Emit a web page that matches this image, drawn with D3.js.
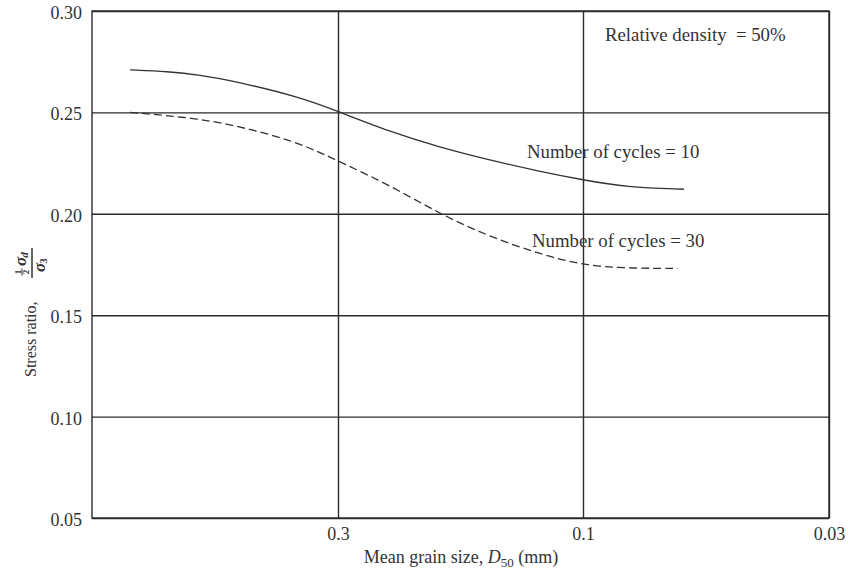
<!DOCTYPE html>
<html>
<head>
<meta charset="utf-8">
<script src="https://cdn.jsdelivr.net/npm/d3@7"></script>
<style>
  html, body { margin: 0; padding: 0; background: #fff; }
  svg { display: block; font-family: "Liberation Serif", "Times New Roman", serif; }
</style>
</head>
<body>
<svg id="chart" width="848" height="571"></svg>
<script>
// Mean grain size D50 (mm) and cyclic stress ratio for each curve
const grainSize10 = [0.83, 0.69, 0.59, 0.50, 0.36, 0.30, 0.238, 0.19, 0.152, 0.121, 0.10, 0.081, 0.061];
const stressRatio10 = [0.271, 0.2702, 0.2685, 0.2655, 0.2575, 0.2505, 0.2405, 0.2328, 0.2265, 0.2208, 0.2167, 0.2131, 0.2121];

const grainSize30 = [0.83, 0.59, 0.46, 0.36, 0.30, 0.238, 0.19, 0.152, 0.121, 0.10, 0.081, 0.063];
const stressRatio30 = [0.250, 0.2471, 0.2418, 0.2348, 0.226, 0.2142, 0.1999, 0.1887, 0.180, 0.1747, 0.1731, 0.1731];

// Axis ticks
const grainDomain = [1, 0.3, 0.1, 0.03];
const grainTicks = [0.3, 0.1, 0.03];
const ratioTicks = [0.05, 0.10, 0.15, 0.20, 0.25, 0.30];

const svg = d3.select("#chart");
const plotLeft = 92, plotRight = 829, plotTop = 11, plotBottom = 518;
const ink = "#2b2b2b";
const textInk = "#333";

// Grain size axis: equal spacing per gridline, decreasing to the right
const x = d3.scaleLog().domain(grainDomain)
  .range([plotLeft, 338, 583, plotRight]);
const y = d3.scaleLinear().domain([0.05, 0.30]).range([plotBottom, plotTop]);

// Horizontal gridlines + stress ratio labels
const yAxis = svg.append("g")
  .attr("transform", `translate(${plotLeft},0)`)
  .call(d3.axisLeft(y).tickValues(ratioTicks)
    .tickSize(-(plotRight - plotLeft)).tickPadding(10)
    .tickFormat(d3.format(".2f")));
yAxis.select(".domain").remove();
yAxis.selectAll(".tick line").attr("stroke", ink).attr("stroke-width", 1.4);
yAxis.selectAll(".tick text")
  .attr("font-size", 18).attr("fill", textInk)
  .attr("font-family", "Liberation Serif, serif")
  .attr("dy", "0.42em");

// Vertical gridlines + grain size labels
const xAxis = svg.append("g")
  .attr("transform", `translate(0,${plotBottom})`)
  .call(d3.axisBottom(x).tickValues(grainTicks)
    .tickSize(-(plotBottom - plotTop)).tickPadding(9)
    .tickFormat(d => String(d)));
xAxis.select(".domain").remove();
xAxis.selectAll(".tick line").attr("stroke", ink).attr("stroke-width", 1.4);
xAxis.selectAll(".tick text")
  .attr("font-size", 18).attr("fill", textInk)
  .attr("font-family", "Liberation Serif, serif");

// Frame
svg.append("rect")
  .attr("x", plotLeft).attr("y", plotTop)
  .attr("width", plotRight - plotLeft).attr("height", plotBottom - plotTop)
  .attr("fill", "none").attr("stroke", ink).attr("stroke-width", 1.4);

// Curves
const line = d3.line()
  .x(d => x(d[0])).y(d => y(d[1]))
  .curve(d3.curveBasis);

svg.append("path")
  .datum(d3.zip(grainSize10, stressRatio10))
  .attr("d", line)
  .attr("fill", "none").attr("stroke", "#333").attr("stroke-width", 1.3);

svg.append("path")
  .datum(d3.zip(grainSize30, stressRatio30))
  .attr("d", line)
  .attr("fill", "none").attr("stroke", "#333").attr("stroke-width", 1.3)
  .attr("stroke-dasharray", "8,4");

// Annotations
const note = (txt, px, py) => svg.append("text")
  .attr("x", px).attr("y", py)
  .attr("font-size", 18.8).attr("fill", textInk)
  .text(txt);
note("Relative density \u00a0= 50%", 605, 41);
note("Number of cycles = 10", 527, 158);
note("Number of cycles = 30", 532, 247);

// X-axis title with subscript
const xt = svg.append("text")
  .attr("x", 461).attr("y", 563)
  .attr("text-anchor", "middle")
  .attr("font-size", 18).attr("fill", textInk);
xt.append("tspan").text("Mean grain size, ");
xt.append("tspan").attr("font-style", "italic").text("D");
xt.append("tspan").attr("font-size", 13).attr("dy", 4).text("50");
xt.append("tspan").attr("dy", -4).text(" (mm)");

// Y-axis title: "Stress ratio," followed by (½σd)/σ3
const yt = svg.append("g").attr("transform", "translate(36,377) rotate(-90)");
yt.append("text").attr("x", 0).attr("y", 0)
  .attr("font-size", 16).attr("fill", textInk)
  .text("Stress ratio,");
// main fraction bar
yt.append("line")
  .attr("x1", 99).attr("x2", 129).attr("y1", -4).attr("y2", -4)
  .attr("stroke", textInk).attr("stroke-width", 1.5);
// numerator: stacked 1/2 then σ_d
yt.append("text").attr("x", 105).attr("y", -15).attr("font-size", 9)
  .attr("font-weight", "bold").attr("fill", textInk).attr("text-anchor", "middle").text("1");
yt.append("line").attr("x1", 101.5).attr("x2", 108.5).attr("y1", -14).attr("y2", -14)
  .attr("stroke", textInk).attr("stroke-width", 1);
yt.append("text").attr("x", 105).attr("y", -7.5).attr("font-size", 9)
  .attr("font-weight", "bold").attr("fill", textInk).attr("text-anchor", "middle").text("2");
const num = yt.append("text").attr("x", 111).attr("y", -10)
  .attr("font-size", 17).attr("font-weight", "bold").attr("fill", textInk);
num.append("tspan").attr("font-style", "italic").text("σ");
num.append("tspan").attr("font-size", 11).attr("font-style", "italic").attr("dy", 2).attr("dx", -1).text("d");
// denominator: σ_3
const den = yt.append("text").attr("x", 105).attr("y", 9)
  .attr("font-size", 17).attr("font-weight", "bold").attr("fill", textInk);
den.append("tspan").attr("font-style", "italic").text("σ");
den.append("tspan").attr("font-size", 11).attr("dy", 2).attr("dx", -1).text("3");
</script>
</body>
</html>
